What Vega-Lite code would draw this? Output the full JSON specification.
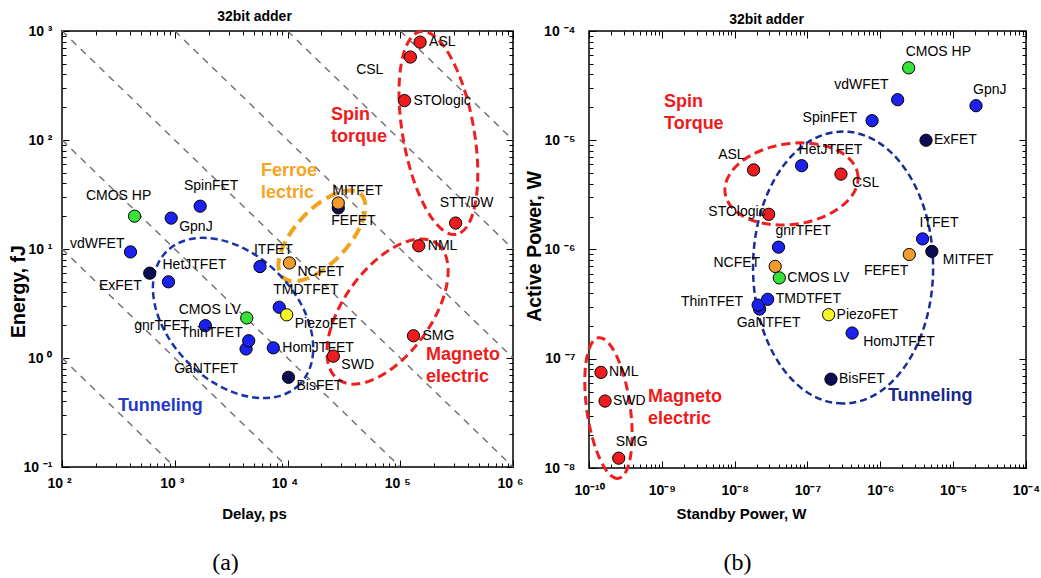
{
  "$schema": "https://vega.github.io/schema/vega-lite/v6.json",
  "background": "white",
  "padding": {"left": 7, "top": 8, "right": 5, "bottom": 5},
  "bounds": "flush",
  "spacing": 76,
  "datasets": {
    "devices": [
      {"device": "CMOS HP", "kind": "CMOS", "delay": 440, "energy": 20, "standby": 2.45e-6, "active": 4.6e-5},
      {"device": "vdWFET", "kind": "Electronic", "delay": 405, "energy": 9.4, "standby": 1.73e-6, "active": 2.35e-5},
      {"device": "GpnJ", "kind": "Electronic", "delay": 930, "energy": 19.2, "standby": 2.06e-5, "active": 2.07e-5},
      {"device": "SpinFET", "kind": "Electronic", "delay": 1680, "energy": 24.7, "standby": 7.7e-7, "active": 1.51e-5},
      {"device": "HetJTFET", "kind": "Electronic", "delay": 880, "energy": 5.0, "standby": 8.3e-8, "active": 5.85e-6},
      {"device": "ITFET", "kind": "Electronic", "delay": 5700, "energy": 6.9, "standby": 3.8e-6, "active": 1.25e-6},
      {"device": "ExFET", "kind": "Collective", "delay": 600, "energy": 6.0, "standby": 4.24e-6, "active": 1.0e-5},
      {"device": "MITFET", "kind": "Collective", "delay": 28200, "energy": 23.8, "standby": 5.1e-6, "active": 9.6e-7},
      {"device": "FEFET", "kind": "Ferroelectric", "delay": 28200, "energy": 26.4, "standby": 2.5e-6, "active": 9.0e-7},
      {"device": "NCFET", "kind": "Ferroelectric", "delay": 10400, "energy": 7.45, "standby": 3.6e-8, "active": 7.0e-7},
      {"device": "CMOS LV", "kind": "CMOS", "delay": 4350, "energy": 2.33, "standby": 4.1e-8, "active": 5.5e-7},
      {"device": "gnrTFET", "kind": "Electronic", "delay": 1870, "energy": 1.98, "standby": 4.0e-8, "active": 1.05e-6},
      {"device": "GaNTFET", "kind": "Electronic", "delay": 4290, "energy": 1.21, "standby": 2.2e-8, "active": 2.85e-7},
      {"device": "ThinTFET", "kind": "Electronic", "delay": 4530, "energy": 1.44, "standby": 2.1e-8, "active": 3.1e-7},
      {"device": "TMDTFET", "kind": "Electronic", "delay": 8450, "energy": 2.92, "standby": 2.84e-8, "active": 3.5e-7},
      {"device": "PiezoFET", "kind": "Piezoelectric", "delay": 9840, "energy": 2.49, "standby": 1.95e-7, "active": 2.53e-7},
      {"device": "HomJTFET", "kind": "Electronic", "delay": 7480, "energy": 1.24, "standby": 4.1e-7, "active": 1.72e-7},
      {"device": "BisFET", "kind": "Collective", "delay": 10200, "energy": 0.665, "standby": 2.1e-7, "active": 6.5e-8},
      {"device": "ASL", "kind": "Spintronic", "delay": 150000, "energy": 790, "standby": 1.82e-8, "active": 5.35e-6},
      {"device": "CSL", "kind": "Spintronic", "delay": 123000, "energy": 577, "standby": 2.88e-7, "active": 4.9e-6},
      {"device": "STOlogic", "kind": "Spintronic", "delay": 109000, "energy": 230, "standby": 2.93e-8, "active": 2.1e-6},
      {"device": "STT/DW", "kind": "Spintronic", "delay": 310000, "energy": 17.3, "standby": null, "active": null},
      {"device": "NML", "kind": "Spintronic", "delay": 146000, "energy": 10.7, "standby": 1.46e-10, "active": 7.5e-8},
      {"device": "SWD", "kind": "Spintronic", "delay": 25500, "energy": 1.04, "standby": 1.66e-10, "active": 4.1e-8},
      {"device": "SMG", "kind": "Spintronic", "delay": 131000, "energy": 1.6, "standby": 2.56e-10, "active": 1.23e-8}
    ],
    "isoEnergyDelay": [
      {"delay": 100, "energy": 1, "delay_end": 1000, "energy_end": 0.1},
      {"delay": 100, "energy": 10, "delay_end": 10000, "energy_end": 0.1},
      {"delay": 100, "energy": 100, "delay_end": 100000, "energy_end": 0.1},
      {"delay": 100, "energy": 1000, "delay_end": 1000000, "energy_end": 0.1},
      {"delay": 1000, "energy": 1000, "delay_end": 1000000, "energy_end": 1},
      {"delay": 10000, "energy": 1000, "delay_end": 1000000, "energy_end": 10},
      {"delay": 100000, "energy": 1000, "delay_end": 1000000, "energy_end": 100}
    ],
    "regionsA": [
      {"group": "Spin torque", "delay": 218000, "energy": 116},
      {"group": "Ferroelectric", "delay": 20200, "energy": 13.2},
      {"group": "Tunneling", "delay": 3290, "energy": 2.33},
      {"group": "Magnetoelectric", "delay": 77100, "energy": 2.67}
    ],
    "regionsB": [
      {"group": "Spin torque", "standby": 6.03e-8, "active": 3.98e-6},
      {"group": "Tunneling", "standby": 3.08e-7, "active": 6.84e-7},
      {"group": "Magnetoelectric", "standby": 1.85e-10, "active": 3.54e-8}
    ],
    "notesA": [
      {"note": "Spin\ntorque", "delay": 24300, "energy": 205},
      {"note": "Ferroe\nlectric", "delay": 5820, "energy": 62.8},
      {"note": "Tunneling", "delay": 314, "energy": 0.438},
      {"note": "Magneto\nelectric", "delay": 169000, "energy": 1.29}
    ],
    "notesB": [
      {"note": "Spin\nTorque", "standby": 1.07e-9, "active": 2.71e-5},
      {"note": "Tunneling", "standby": 1.27e-6, "active": 5.51e-8},
      {"note": "Magneto\nelectric", "standby": 6.45e-10, "active": 5.39e-8}
    ]
  },
  "hconcat": [
    {
      "width": 451,
      "height": 436,
      "title": {"text": "(a)", "orient": "bottom", "frame": "group", "anchor": "middle", "dx": -62, "offset": 30, "font": "Liberation Serif", "fontSize": 24, "fontWeight": "normal", "color": "black"},
      "data": {"name": "devices"},
      "encoding": {
        "x": {"field": "delay", "type": "quantitative", "scale": {"type": "log", "domain": [100, 1000000], "nice": false}, "axis": null},
        "y": {"field": "energy", "type": "quantitative", "scale": {"type": "log", "domain": [0.1, 1000], "nice": false}, "axis": null}
      },
      "layer": [
        {
          "data": {"name": "isoEnergyDelay"},
          "mark": {"type": "rule", "color": "#6e6e6e", "strokeWidth": 1.4, "strokeDash": [7, 6]},
          "encoding": {
            "x": {"field": "delay", "type": "quantitative", "scale": {"type": "log", "domain": [100, 1000000], "nice": false},
              "axis": {"orient": "top", "values": [100,200,300,400,500,600,700,800,900,1000,2000,3000,4000,5000,6000,7000,8000,9000,10000,20000,30000,40000,50000,60000,70000,80000,90000,100000,200000,300000,400000,500000,600000,700000,800000,900000,1000000],
                "labels": false, "tickSize": {"condition": {"test": "abs(log(datum.value)/LN10 - round(log(datum.value)/LN10)) < 0.001", "value": -7}, "value": -4},
                "title": "32bit adder", "titleX": 192, "titleY": -15, "titleFontSize": 14}},
            "y": {"field": "energy", "type": "quantitative", "scale": {"type": "log", "domain": [0.1, 1000], "nice": false},
              "axis": {"orient": "right", "values": [0.1,0.2,0.3,0.4,0.5,0.6,0.7,0.8,0.9,1,2,3,4,5,6,7,8,9,10,20,30,40,50,60,70,80,90,100,200,300,400,500,600,700,800,900,1000],
                "labels": false, "title": null, "tickSize": {"condition": {"test": "abs(log(datum.value)/LN10 - round(log(datum.value)/LN10)) < 0.001", "value": -7}, "value": -4}}},
            "x2": {"field": "delay_end"},
            "y2": {"field": "energy_end"}
          }
        },
        {
          "data": {"name": "regionsA"},
          "transform": [{"filter": "datum.group === 'Spin torque'"}],
          "mark": {"type": "point", "shape": "M1,0C1,0.191 0.5523,0.346 0,0.346C-0.5523,0.346 -1,0.191 -1,0C-1,-0.191 -0.5523,-0.346 0,-0.346C0.5523,-0.346 1,-0.191 1,0Z", "size": 42436, "angle": 80, "filled": false, "opacity": 1, "stroke": "#ee1f1f", "strokeWidth": 3, "strokeDash": [9, 5]}
        },
        {
          "data": {"name": "regionsA"},
          "transform": [{"filter": "datum.group === 'Ferroelectric'"}],
          "mark": {"type": "point", "shape": "M1,0C1,0.257 0.5523,0.466 0,0.466C-0.5523,0.466 -1,0.257 -1,0C-1,-0.257 -0.5523,-0.466 0,-0.466C0.5523,-0.466 1,-0.257 1,0Z", "size": 12996, "angle": -47, "filled": false, "opacity": 1, "stroke": "#f2a31c", "strokeWidth": 4, "strokeDash": [12, 6]}
        },
        {
          "data": {"name": "regionsA"},
          "transform": [{"filter": "datum.group === 'Tunneling'"}],
          "mark": {"type": "point", "shape": "M1,0C1,0.372 0.5523,0.674 0,0.674C-0.5523,0.674 -1,0.372 -1,0C-1,-0.372 -0.5523,-0.674 0,-0.674C0.5523,-0.674 1,-0.372 1,0Z", "size": 35344, "angle": 45, "filled": false, "opacity": 1, "stroke": "#1834a8", "strokeWidth": 2.5, "strokeDash": [7, 4]}
        },
        {
          "data": {"name": "regionsA"},
          "transform": [{"filter": "datum.group === 'Magnetoelectric'"}],
          "mark": {"type": "point", "shape": "M1,0C1,0.286 0.5523,0.518 0,0.518C-0.5523,0.518 -1,0.286 -1,0C-1,-0.286 -0.5523,-0.518 0,-0.518C0.5523,-0.518 1,-0.286 1,0Z", "size": 28224, "angle": -54, "filled": false, "opacity": 1, "stroke": "#ee1f1f", "strokeWidth": 3, "strokeDash": [9, 5]}
        },
        {
          "mark": {"type": "point", "shape": "circle", "filled": true, "size": 150, "opacity": 1, "stroke": "black", "strokeWidth": 1},
          "encoding": {
            "x": {"field": "delay", "type": "quantitative", "scale": {"type": "log", "domain": [100, 1000000], "nice": false},
              "axis": {"orient": "bottom", "values": [100,200,300,400,500,600,700,800,900,1000,2000,3000,4000,5000,6000,7000,8000,9000,10000,20000,30000,40000,50000,60000,70000,80000,90000,100000,200000,300000,400000,500000,600000,700000,800000,900000,1000000],
                "labelExpr": "abs(log(datum.value)/LN10 - round(log(datum.value)/LN10)) < 0.001 ? '10 ' + replace(replace(replace(replace(replace(replace(replace(replace(replace(replace(replace(toString(round(log(datum.value)/LN10)),'-','⁻'),'0','⁰'),'1','¹'),'2','²'),'3','³'),'4','⁴'),'5','⁵'),'6','⁶'),'7','⁷'),'8','⁸'),'9','⁹') : ''",
                "tickSize": {"condition": {"test": "abs(log(datum.value)/LN10 - round(log(datum.value)/LN10)) < 0.001", "value": -7}, "value": -4},
                "labelPadding": 16, "labelOffset": -3,
                "title": "Delay, ps", "titleX": 192, "titleY": 46}},
            "y": {"field": "energy", "type": "quantitative", "scale": {"type": "log", "domain": [0.1, 1000], "nice": false},
              "axis": {"orient": "left", "values": [0.1,0.2,0.3,0.4,0.5,0.6,0.7,0.8,0.9,1,2,3,4,5,6,7,8,9,10,20,30,40,50,60,70,80,90,100,200,300,400,500,600,700,800,900,1000],
                "labelExpr": "abs(log(datum.value)/LN10 - round(log(datum.value)/LN10)) < 0.001 ? '10 ' + replace(replace(replace(replace(replace(replace(replace(replace(replace(replace(replace(toString(round(log(datum.value)/LN10)),'-','⁻'),'0','⁰'),'1','¹'),'2','²'),'3','³'),'4','⁴'),'5','⁵'),'6','⁶'),'7','⁷'),'8','⁸'),'9','⁹') : ''",
                "tickSize": {"condition": {"test": "abs(log(datum.value)/LN10 - round(log(datum.value)/LN10)) < 0.001", "value": -7}, "value": -4},
                "labelPadding": 17,
                "title": "Energy, fJ", "titleFontSize": 19.5, "titleX": -44, "titleY": 260}},
            "color": {"field": "kind", "type": "nominal", "legend": null,
              "scale": {"domain": ["CMOS", "Electronic", "Collective", "Ferroelectric", "Piezoelectric", "Spintronic"], "range": ["#38e038", "#1c22ee", "#0c0c55", "#f39a2c", "#f6f626", "#ee1c1c"]}}
          }
        },
        {
          "transform": [{"filter": {"field": "device", "oneOf": ["ASL", "STOlogic", "NML", "SMG", "HomJTFET"]}}],
          "mark": {"type": "text", "align": "left", "baseline": "middle", "dx": 9, "dy": 0, "fontSize": 14, "color": "black"},
          "encoding": {"text": {"field": "device"}}
        },
        {
          "transform": [{"filter": {"field": "device", "oneOf": ["GpnJ", "NCFET", "PiezoFET", "SWD", "BisFET"]}}],
          "mark": {"type": "text", "align": "left", "baseline": "middle", "dx": 8, "dy": 9, "fontSize": 14, "color": "black"},
          "encoding": {"text": {"field": "device"}}
        },
        {
          "transform": [{"filter": {"field": "device", "oneOf": ["STT/DW", "SpinFET"]}}],
          "mark": {"type": "text", "align": "center", "baseline": "middle", "dx": 11, "dy": -20, "fontSize": 14, "color": "black"},
          "encoding": {"text": {"field": "device"}}
        },
        {
          "transform": [{"filter": {"field": "device", "oneOf": ["HetJTFET", "ITFET", "TMDTFET", "MITFET"]}}],
          "mark": {"type": "text", "align": "left", "baseline": "middle", "dx": -6, "dy": -17, "fontSize": 14, "color": "black"},
          "encoding": {"text": {"field": "device"}}
        },
        {
          "transform": [{"filter": {"field": "device", "oneOf": ["vdWFET", "CMOS LV", "ThinTFET"]}}],
          "mark": {"type": "text", "align": "right", "baseline": "middle", "dx": -6, "dy": -8, "fontSize": 14, "color": "black"},
          "encoding": {"text": {"field": "device"}}
        },
        {
          "transform": [{"filter": {"field": "device", "oneOf": ["ExFET"]}}],
          "mark": {"type": "text", "align": "right", "baseline": "middle", "dx": -8, "dy": 13, "fontSize": 14, "color": "black"},
          "encoding": {"text": {"field": "device"}}
        },
        {
          "transform": [{"filter": {"field": "device", "oneOf": ["CSL"]}}],
          "mark": {"type": "text", "align": "right", "baseline": "middle", "dx": -27, "dy": 13, "fontSize": 14, "color": "black"},
          "encoding": {"text": {"field": "device"}}
        },
        {
          "transform": [{"filter": {"field": "device", "oneOf": ["CMOS HP"]}}],
          "mark": {"type": "text", "align": "center", "baseline": "middle", "dx": -16, "dy": -20, "fontSize": 14, "color": "black"},
          "encoding": {"text": {"field": "device"}}
        },
        {
          "transform": [{"filter": {"field": "device", "oneOf": ["FEFET"]}}],
          "mark": {"type": "text", "align": "left", "baseline": "middle", "dx": -7, "dy": 18, "fontSize": 14, "color": "black"},
          "encoding": {"text": {"field": "device"}}
        },
        {
          "transform": [{"filter": {"field": "device", "oneOf": ["GaNTFET"]}}],
          "mark": {"type": "text", "align": "center", "baseline": "middle", "dx": -40, "dy": 20, "fontSize": 14, "color": "black"},
          "encoding": {"text": {"field": "device"}}
        },
        {
          "transform": [{"filter": {"field": "device", "oneOf": ["gnrTFET"]}}],
          "mark": {"type": "text", "align": "right", "baseline": "middle", "dx": -16, "dy": 0, "fontSize": 14, "color": "black"},
          "encoding": {"text": {"field": "device"}}
        },
        {
          "data": {"name": "notesA"},
          "transform": [{"filter": {"field": "note", "oneOf": ["Spin\ntorque", "Magneto\nelectric"]}}],
          "mark": {"type": "text", "align": "left", "baseline": "top", "lineBreak": "\n", "lineHeight": 22, "fontSize": 18, "fontWeight": "bold", "color": "#f01a1a"},
          "encoding": {"text": {"field": "note"}}
        },
        {
          "data": {"name": "notesA"},
          "transform": [{"filter": {"field": "note", "oneOf": ["Ferroe\nlectric"]}}],
          "mark": {"type": "text", "align": "left", "baseline": "top", "lineBreak": "\n", "lineHeight": 22, "fontSize": 18, "fontWeight": "bold", "color": "#f5a51f"},
          "encoding": {"text": {"field": "note"}}
        },
        {
          "data": {"name": "notesA"},
          "transform": [{"filter": {"field": "note", "oneOf": ["Tunneling"]}}],
          "mark": {"type": "text", "align": "left", "baseline": "top", "fontSize": 18, "fontWeight": "bold", "color": "#2438c8"},
          "encoding": {"text": {"field": "note"}}
        }
      ],
      "resolve": {"axis": {"x": "independent", "y": "independent"}}
    },
    {
      "width": 437,
      "height": 437,
      "title": {"text": "(b)", "orient": "bottom", "frame": "group", "anchor": "middle", "dx": -70, "offset": 30, "font": "Liberation Serif", "fontSize": 24, "fontWeight": "normal", "color": "black"},
      "data": {"name": "devices"},
      "encoding": {
        "x": {"field": "standby", "type": "quantitative", "scale": {"type": "log", "domain": [1e-10, 1e-4], "nice": false}, "axis": null},
        "y": {"field": "active", "type": "quantitative", "scale": {"type": "log", "domain": [1e-8, 1e-4], "nice": false}, "axis": null}
      },
      "layer": [
        {
          "data": {"name": "regionsB"},
          "transform": [{"filter": "datum.group === 'Spin torque'"}],
          "mark": {"type": "point", "shape": "M1,0C1,0.333 0.5523,0.603 0,0.603C-0.5523,0.603 -1,0.333 -1,0C-1,-0.333 -0.5523,-0.603 0,-0.603C0.5523,-0.603 1,-0.333 1,0Z", "size": 17956, "angle": -8, "filled": false, "opacity": 1, "stroke": "#ee1f1f", "strokeWidth": 3, "strokeDash": [9, 5]},
          "encoding": {
            "x": {"field": "standby", "type": "quantitative", "scale": {"type": "log", "domain": [1e-10, 1e-4], "nice": false},
              "axis": {"orient": "top", "values": [1e-10,2e-10,3e-10,4e-10,5e-10,6e-10,7e-10,8e-10,9e-10,1e-9,2e-9,3e-9,4e-9,5e-9,6e-9,7e-9,8e-9,9e-9,1e-8,2e-8,3e-8,4e-8,5e-8,6e-8,7e-8,8e-8,9e-8,1e-7,2e-7,3e-7,4e-7,5e-7,6e-7,7e-7,8e-7,9e-7,1e-6,2e-6,3e-6,4e-6,5e-6,6e-6,7e-6,8e-6,9e-6,1e-5,2e-5,3e-5,4e-5,5e-5,6e-5,7e-5,8e-5,9e-5,1e-4],
                "labels": false, "tickSize": {"condition": {"test": "abs(log(datum.value)/LN10 - round(log(datum.value)/LN10)) < 0.001", "value": -7}, "value": -4},
                "title": "32bit adder", "titleX": 177, "titleY": -12, "titleFontSize": 14}},
            "y": {"field": "active", "type": "quantitative", "scale": {"type": "log", "domain": [1e-8, 1e-4], "nice": false},
              "axis": {"orient": "right", "values": [1e-8,2e-8,3e-8,4e-8,5e-8,6e-8,7e-8,8e-8,9e-8,1e-7,2e-7,3e-7,4e-7,5e-7,6e-7,7e-7,8e-7,9e-7,1e-6,2e-6,3e-6,4e-6,5e-6,6e-6,7e-6,8e-6,9e-6,1e-5,2e-5,3e-5,4e-5,5e-5,6e-5,7e-5,8e-5,9e-5,1e-4],
                "labels": false, "title": null, "tickSize": {"condition": {"test": "abs(log(datum.value)/LN10 - round(log(datum.value)/LN10)) < 0.001", "value": -7}, "value": -4}}}
          }
        },
        {
          "data": {"name": "regionsB"},
          "transform": [{"filter": "datum.group === 'Tunneling'"}],
          "mark": {"type": "point", "shape": "M1,0C1,0.366 0.5523,0.662 0,0.662C-0.5523,0.662 -1,0.366 -1,0C-1,-0.366 -0.5523,-0.662 0,-0.662C0.5523,-0.662 1,-0.366 1,0Z", "size": 73984, "angle": 90, "filled": false, "opacity": 1, "stroke": "#1a2e92", "strokeWidth": 2.5, "strokeDash": [7, 4]}
        },
        {
          "data": {"name": "regionsB"},
          "transform": [{"filter": "datum.group === 'Magnetoelectric'"}],
          "mark": {"type": "point", "shape": "M1,0C1,0.169 0.5523,0.306 0,0.306C-0.5523,0.306 -1,0.169 -1,0C-1,-0.169 -0.5523,-0.306 0,-0.306C0.5523,-0.306 1,-0.169 1,0Z", "size": 20164, "angle": 82, "filled": false, "opacity": 1, "stroke": "#ee1f1f", "strokeWidth": 3, "strokeDash": [9, 5]}
        },
        {
          "mark": {"type": "point", "shape": "circle", "filled": true, "size": 150, "opacity": 1, "stroke": "black", "strokeWidth": 1},
          "encoding": {
            "x": {"field": "standby", "type": "quantitative", "scale": {"type": "log", "domain": [1e-10, 1e-4], "nice": false},
              "axis": {"orient": "bottom", "values": [1e-10,2e-10,3e-10,4e-10,5e-10,6e-10,7e-10,8e-10,9e-10,1e-9,2e-9,3e-9,4e-9,5e-9,6e-9,7e-9,8e-9,9e-9,1e-8,2e-8,3e-8,4e-8,5e-8,6e-8,7e-8,8e-8,9e-8,1e-7,2e-7,3e-7,4e-7,5e-7,6e-7,7e-7,8e-7,9e-7,1e-6,2e-6,3e-6,4e-6,5e-6,6e-6,7e-6,8e-6,9e-6,1e-5,2e-5,3e-5,4e-5,5e-5,6e-5,7e-5,8e-5,9e-5,1e-4],
                "labelExpr": "abs(log(datum.value)/LN10 - round(log(datum.value)/LN10)) < 0.001 ? '10' + replace(replace(replace(replace(replace(replace(replace(replace(replace(replace(replace(toString(round(log(datum.value)/LN10)),'-','⁻'),'0','⁰'),'1','¹'),'2','²'),'3','³'),'4','⁴'),'5','⁵'),'6','⁶'),'7','⁷'),'8','⁸'),'9','⁹') : ''",
                "tickSize": {"condition": {"test": "abs(log(datum.value)/LN10 - round(log(datum.value)/LN10)) < 0.001", "value": -7}, "value": -4},
                "labelPadding": 22,
                "title": "Standby Power, W", "titleX": 152, "titleY": 45}},
            "y": {"field": "active", "type": "quantitative", "scale": {"type": "log", "domain": [1e-8, 1e-4], "nice": false},
              "axis": {"orient": "left", "values": [1e-8,2e-8,3e-8,4e-8,5e-8,6e-8,7e-8,8e-8,9e-8,1e-7,2e-7,3e-7,4e-7,5e-7,6e-7,7e-7,8e-7,9e-7,1e-6,2e-6,3e-6,4e-6,5e-6,6e-6,7e-6,8e-6,9e-6,1e-5,2e-5,3e-5,4e-5,5e-5,6e-5,7e-5,8e-5,9e-5,1e-4],
                "labelExpr": "abs(log(datum.value)/LN10 - round(log(datum.value)/LN10)) < 0.001 ? '10 ' + replace(replace(replace(replace(replace(replace(replace(replace(replace(replace(replace(toString(round(log(datum.value)/LN10)),'-','⁻'),'0','⁰'),'1','¹'),'2','²'),'3','³'),'4','⁴'),'5','⁵'),'6','⁶'),'7','⁷'),'8','⁸'),'9','⁹') : ''",
                "tickSize": {"condition": {"test": "abs(log(datum.value)/LN10 - round(log(datum.value)/LN10)) < 0.001", "value": -7}, "value": -4},
                "labelPadding": 21,
                "title": "Active Power, W", "titleFontSize": 19.5, "titleX": -55, "titleY": 215}},
            "color": {"field": "kind", "type": "nominal", "legend": null,
              "scale": {"domain": ["CMOS", "Electronic", "Collective", "Ferroelectric", "Piezoelectric", "Spintronic"], "range": ["#38e038", "#1c22ee", "#0c0c55", "#f39a2c", "#f6f626", "#ee1c1c"]}}
          }
        },
        {
          "transform": [{"filter": {"field": "device", "oneOf": ["ExFET", "CMOS LV", "TMDTFET", "PiezoFET", "BisFET", "NML", "SWD"]}}],
          "mark": {"type": "text", "align": "left", "baseline": "middle", "dx": 8, "dy": 0, "fontSize": 14, "color": "black"},
          "encoding": {"text": {"field": "device"}}
        },
        {
          "transform": [{"filter": {"field": "device", "oneOf": ["CSL", "MITFET", "HomJTFET"]}}],
          "mark": {"type": "text", "align": "left", "baseline": "middle", "dx": 11, "dy": 9, "fontSize": 14, "color": "black"},
          "encoding": {"text": {"field": "device"}}
        },
        {
          "transform": [{"filter": {"field": "device", "oneOf": ["CMOS HP", "GpnJ", "SMG", "HetJTFET", "gnrTFET", "ITFET"]}}],
          "mark": {"type": "text", "align": "left", "baseline": "middle", "dx": -3, "dy": -16, "fontSize": 14, "color": "black"},
          "encoding": {"text": {"field": "device"}}
        },
        {
          "transform": [{"filter": {"field": "device", "oneOf": ["SpinFET", "NCFET", "ThinTFET"]}}],
          "mark": {"type": "text", "align": "right", "baseline": "middle", "dx": -15, "dy": -3, "fontSize": 14, "color": "black"},
          "encoding": {"text": {"field": "device"}}
        },
        {
          "transform": [{"filter": {"field": "device", "oneOf": ["STOlogic"]}}],
          "mark": {"type": "text", "align": "right", "baseline": "middle", "dx": -3, "dy": -2, "fontSize": 14, "color": "black"},
          "encoding": {"text": {"field": "device"}}
        },
        {
          "transform": [{"filter": {"field": "device", "oneOf": ["vdWFET", "ASL"]}}],
          "mark": {"type": "text", "align": "right", "baseline": "middle", "dx": -9, "dy": -15, "fontSize": 14, "color": "black"},
          "encoding": {"text": {"field": "device"}}
        },
        {
          "transform": [{"filter": {"field": "device", "oneOf": ["FEFET"]}}],
          "mark": {"type": "text", "align": "right", "baseline": "middle", "dx": -1, "dy": 17, "fontSize": 14, "color": "black"},
          "encoding": {"text": {"field": "device"}}
        },
        {
          "transform": [{"filter": {"field": "device", "oneOf": ["GaNTFET"]}}],
          "mark": {"type": "text", "align": "center", "baseline": "middle", "dx": 9, "dy": 14, "fontSize": 14, "color": "black"},
          "encoding": {"text": {"field": "device"}}
        },
        {
          "data": {"name": "notesB"},
          "transform": [{"filter": {"field": "note", "oneOf": ["Spin\nTorque", "Magneto\nelectric"]}}],
          "mark": {"type": "text", "align": "left", "baseline": "top", "lineBreak": "\n", "lineHeight": 22, "fontSize": 18, "fontWeight": "bold", "color": "#f01a1a"},
          "encoding": {"text": {"field": "note"}}
        },
        {
          "data": {"name": "notesB"},
          "transform": [{"filter": {"field": "note", "oneOf": ["Tunneling"]}}],
          "mark": {"type": "text", "align": "left", "baseline": "top", "fontSize": 18, "fontWeight": "bold", "color": "#17288c"},
          "encoding": {"text": {"field": "note"}}
        }
      ],
      "resolve": {"axis": {"x": "independent", "y": "independent"}}
    }
  ],
  "config": {
    "font": "Liberation Sans",
    "view": {"stroke": "black", "strokeWidth": 1.5},
    "text": {"font": "Liberation Sans"},
    "axis": {
      "domain": false,
      "grid": false,
      "tickColor": "black",
      "tickWidth": 1,
      "labelFont": "Liberation Sans",
      "labelFontSize": 14,
      "labelFontWeight": "bold",
      "labelColor": "black",
      "labelFlush": false,
      "labelOverlap": false,
      "labelBound": false,
      "titleFont": "Liberation Sans",
      "titleFontSize": 15,
      "titleFontWeight": "bold",
      "titleColor": "black",
      "titleBaseline": "middle",
      "titlePadding": 0
    }
  }
}
